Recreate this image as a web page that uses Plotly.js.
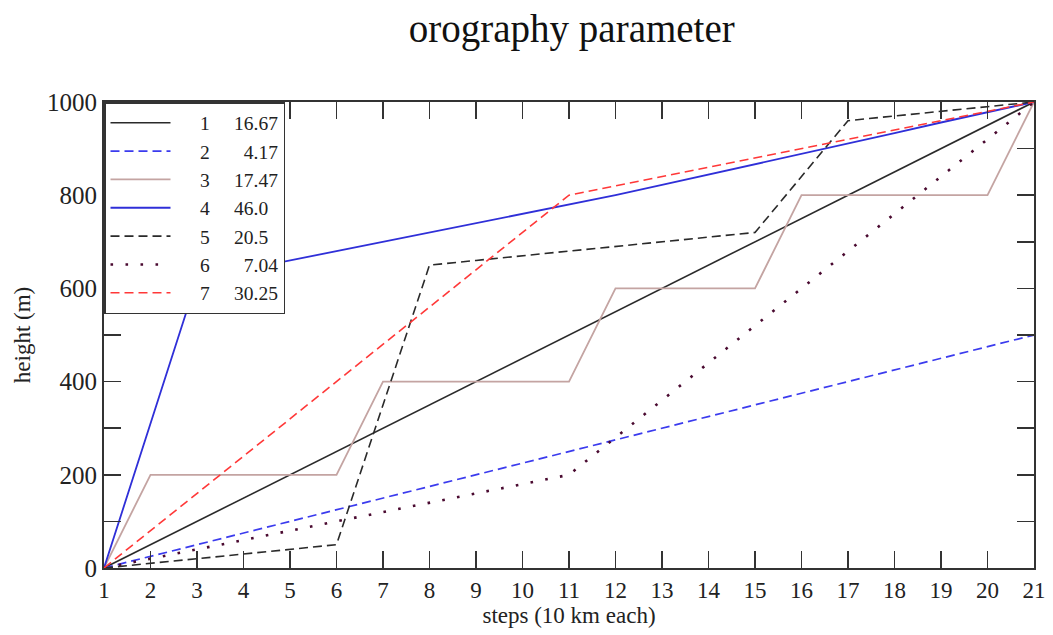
<!DOCTYPE html>
<html>
<head>
<meta charset="utf-8">
<script src="https://cdn.plot.ly/plotly-3.0.1.min.js"></script>
<style>html,body{margin:0;padding:0;background:#fff;}#chart{width:1053px;height:635px;}</style>
</head>
<body>
<div id="chart"></div>
<script>
const steps = [1,2,3,4,5,6,7,8,9,10,11,12,13,14,15,16,17,18,19,20,21];
const s1 = [0,50,100,150,200,250,300,350,400,450,500,550,600,650,700,750,800,850,900,950,1000];
const s2 = [0,25,50,75,100,125,150,175,200,225,250,275,300,325,350,375,400,425,450,475,500];
const s3 = [0,200,200,200,200,200,400,400,400,400,400,600,600,600,600,800,800,800,800,800,1000];
const s4 = [0,310,620,640,660,680,700,720,740,760,780,800,822,844,867,889,911,933,956,978,1000];
const s5 = [0,10,20,30,40,50,350,650,660,670,680,690,700,710,720,840,960,970,980,990,1000];
const s6 = [0,20,40,60,80,100,120,140,160,180,200,280,360,440,520,600,680,760,840,920,1000];
const s7 = [0,80,160,240,320,400,480,560,640,720,800,820,840,860,880,900,920,940,960,980,1000];
const labels = ["1", "2", "3", "4", "5", "6", "7"];
const params = ["16.67", "\u00a0\u00a04.17", "17.47", "46.0", "20.5", "\u00a0\u00a07.04", "30.25"];

const series = [s1, s2, s3, s4, s5, s6, s7];
const styles = [
  {color:"#2a2a2a", width:1.6, dash:"solid"},
  {color:"#3b3bee", width:1.7, dash:"9px,5px"},
  {color:"#c4a4a2", width:1.8, dash:"solid"},
  {color:"#2f2fd8", width:1.8, dash:"solid"},
  {color:"#2a2a2a", width:1.6, dash:"9px,5px"},
  {color:"#4a0a30", width:2.6, dash:"2.6px,12.4px"},
  {color:"#ff3838", width:1.6, dash:"9px,5px"}
];
const lead = "\u00a0\u00a0\u00a0\u00a0\u00a0";
const gap = "\u00a0\u00a0\u00a0\u00a0\u00a0";
const traces = series.map((s, i) => ({
  x: steps, y: s, type: "scatter", mode: "lines",
  name: lead + labels[i] + gap + params[i],
  line: styles[i]
}));

const serif = "Liberation Serif, Times New Roman, serif";
const layout = {
  width: 1053, height: 635,
  margin: {l: 104, r: 19, t: 102, b: 67},
  paper_bgcolor: "#fff", plot_bgcolor: "#fff",
  font: {family: serif, color: "#222", size: 23},
  title: {text: "orography parameter", font: {family: serif, size: 39, color: "#111"}, x: 0.543, xanchor: "center", y: 0.955, yanchor: "middle"},
  xaxis: {
    range: [1, 21], dtick: 1, tick0: 1, ticks: "inside", ticklen: 17, tickwidth: 1.6, tickcolor: "#333",
    showline: true, linecolor: "#333", linewidth: 2, mirror: "ticks", showgrid: false, zeroline: false,
    tickfont: {family: serif, size: 23, color: "#222"},
    title: {text: "steps (10 km each)", font: {family: serif, size: 23, color: "#222"}, standoff: 2}
  },
  yaxis: {
    range: [0, 1000], dtick: 200, tick0: 0, ticks: "inside", ticklen: 17, tickwidth: 1.6, tickcolor: "#333",
    minor: {dtick: 100, ticks: "inside", ticklen: 17, tickwidth: 1.6, tickcolor: "#333", showgrid: false},
    showline: true, linecolor: "#333", linewidth: 2, mirror: "ticks", showgrid: false, zeroline: false,
    tickfont: {family: serif, size: 25, color: "#222"},
    title: {text: "height (m)", font: {family: serif, size: 23, color: "#222"}, standoff: 10}
  },
  showlegend: true,
  legend: {
    x: 0, y: 1, xanchor: "left", yanchor: "top",
    bgcolor: "#fff", bordercolor: "#333", borderwidth: 1.5,
    font: {family: serif, size: 19.5, color: "#222"},
    itemwidth: 60, tracegroupgap: 0
  }
};
Plotly.newPlot("chart", traces, layout, {displayModeBar: false, staticPlot: true});
</script>
</body>
</html>
